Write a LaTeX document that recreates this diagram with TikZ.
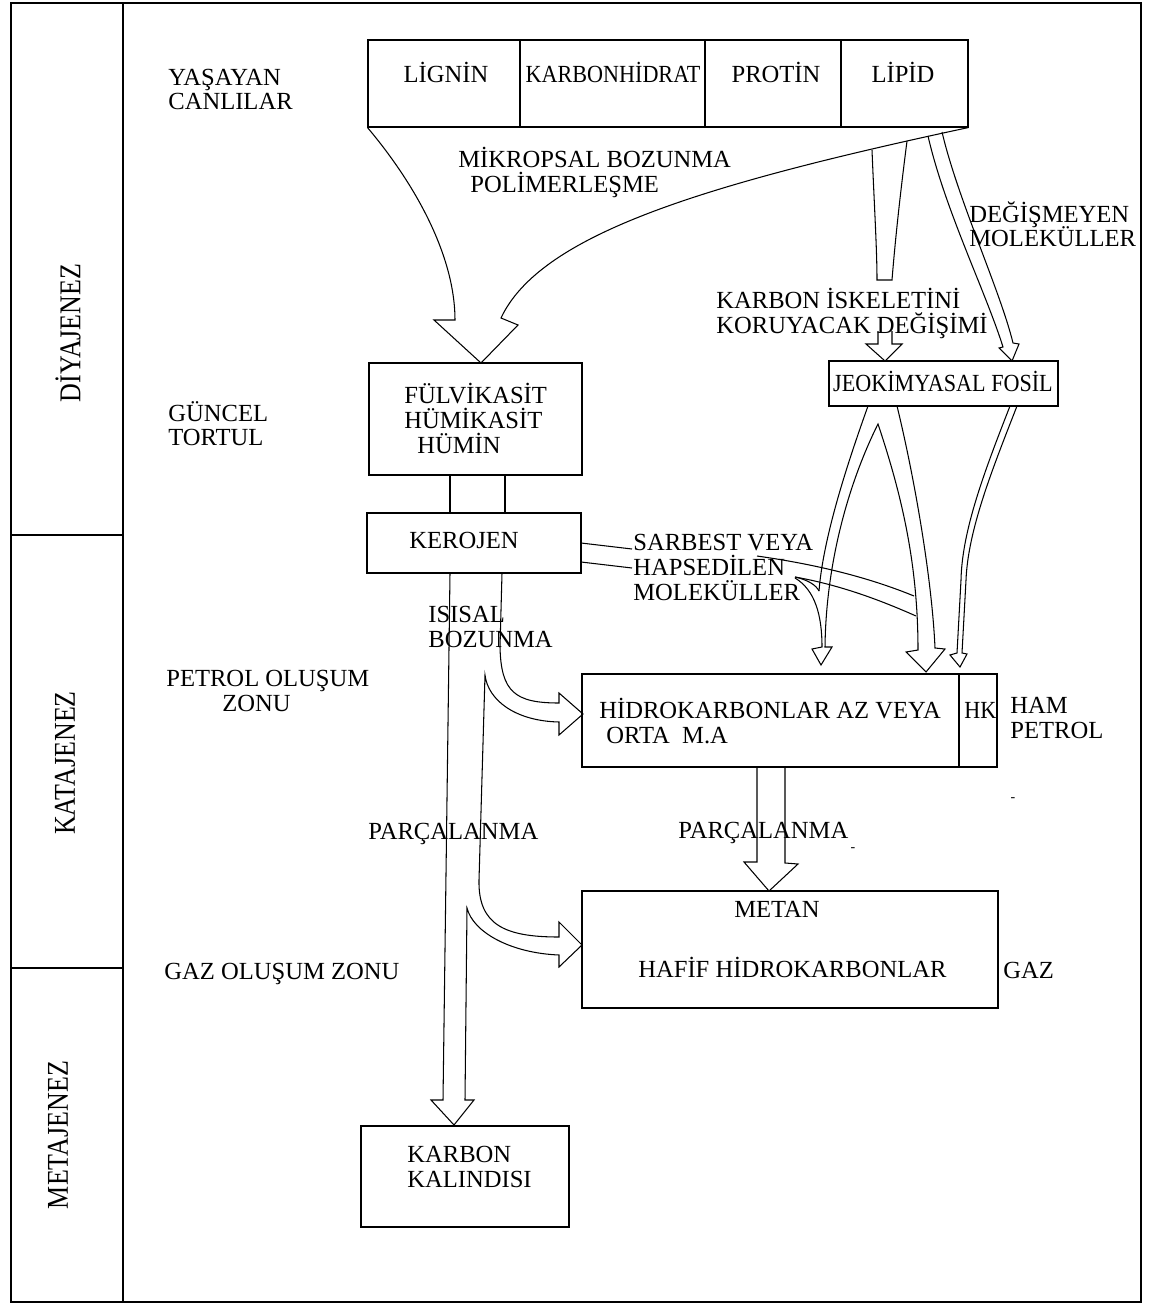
\documentclass[tikz,border=0pt]{standalone}
\usepackage{fontspec}
\setmainfont{Liberation Serif}
\usetikzlibrary{fit}
\begin{document}
\begin{tikzpicture}[
            x=0.02cm, y=-0.02cm,
            kutu/.style={draw, line width=0.6pt, inner sep=0pt},
            yazi/.style={font=\fontsize{14}{16}\selectfont, inner sep=0pt, anchor=base west},
            orta/.style={yazi, anchor=base},
            evre/.style={rotate=90, inner sep=0pt, font=\fontsize{17.2}{20}\selectfont},
            ok/.style={draw, line width=0.6pt}
        ]
            \fill[white] (0,0) rectangle (1152,1304);
            \draw[line width=1.4pt] (11,3) rectangle (1141,1302);
            \draw[line width=1.1pt] (123,3) -- (123,1302);
            \draw[line width=0.6pt] (11,535) -- (123,535) (11,968) -- (123,968);

            \node[evre] (diyajenez) at (68,333) {\scalebox{0.86}[1]{DİYAJENEZ}};
            \node[evre] (katajenez) at (65,763) {\scalebox{0.86}[1]{KATAJENEZ}};
            \node[evre] (metajenez) at (58,1135) {\scalebox{0.86}[1]{METAJENEZ}};

            \node[yazi] (yasayan) at (168,86) {YAŞAYAN};
            \node[yazi] (canlilar) at (168,110) {CANLILAR};
            \node[yazi] (guncel) at (168,421) {GÜNCEL};
            \node[yazi] (tortul) at (168,445) {TORTUL};
            \node[yazi] (petrolzon) at (166,686) {PETROL OLUŞUM};
            \node[yazi] (zonu) at (222,711) {ZONU};
            \node[yazi] (gazzon) at (164,979) {GAZ OLUŞUM ZONU};

            \node[kutu, fit={(368,40) (520,127)}] (lignin) {};
            \node[kutu, fit={(520,40) (705,127)}] (karbonhidrat) {};
            \node[kutu, fit={(705,40) (841,127)}] (protin) {};
            \node[kutu, fit={(841,40) (968,127)}] (lipid) {};
            \node[orta] (lignintxt) at (446,83) {LİGNİN};
            \node[orta] (karbtxt) at (613,83) {\scalebox{0.9}[1]{KARBONHİDRAT}};
            \node[orta] (protintxt) at (776,83) {PROTİN};
            \node[orta] (lipidtxt) at (903,83) {LİPİD};

            \node[kutu, fit={(369,363) (582,475)}] (fulvik) {};
            \node[kutu, fit={(367,513) (581,573)}] (kerojen) {};
            \node[kutu, fit={(829,361) (1058,406)}] (jeofosil) {};
            \node[kutu, fit={(582,674) (959,767)}] (hidrokarbon) {};
            \node[kutu, fit={(959,674) (997,767)}] (hk) {};
            \node[kutu, fit={(582,891) (998,1008)}] (metan) {};
            \node[kutu, fit={(361,1126) (569,1227)}] (kalinti) {};

            \node[yazi] (fulvtxt) at (404,403) {FÜLVİKASİT};
            \node[yazi] (humiktxt) at (404,428) {HÜMİKASİT};
            \node[yazi] (humintxt) at (417,453) {HÜMİN};
            \node[yazi] (kerotxt) at (409,548) {KEROJEN};
            \node[orta] (jeotxt) at (943,391) {\scalebox{0.9}[1]{JEOKİMYASAL FOSİL}};
            \node[yazi] (hidrotxt) at (599,718) {HİDROKARBONLAR AZ VEYA};
            \node[yazi] (ortatxt) at (606,743) {ORTA~~M.A};
            \node[yazi] (hktxt) at (964,718) {\scalebox{0.9}[1]{HK}};
            \node[orta] (metantxt) at (777,917) {METAN};
            \node[yazi] (hafiftxt) at (638,977) {HAFİF HİDROKARBONLAR};
            \node[yazi] (karbontxt) at (407,1162) {KARBON};
            \node[yazi] (kalintitxt) at (407,1187) {KALINDISI};

            \node[yazi] (mikropsal) at (458,168) {MİKROPSAL BOZUNMA};
            \node[yazi] (polimer) at (470,193) {POLİMERLEŞME};
            \node[yazi] (iskelet) at (716,308) {KARBON İSKELETİNİ};
            \node[yazi] (koruyacak) at (716,333) {KORUYACAK DEĞİŞİMİ};
            \node[yazi] (degismeyen) at (969,222) {DEĞİŞMEYEN};
            \node[yazi] (molekul) at (969,246) {MOLEKÜLLER};
            \node[yazi] (sarbest) at (633,550) {SARBEST VEYA};
            \node[yazi] (hapsedilen) at (633,575) {HAPSEDİLEN};
            \node[yazi] (molekul2) at (633,600) {MOLEKÜLLER};
            \node[yazi] (isisal) at (428,622) {ISISAL};
            \node[yazi] (bozunma) at (428,647) {BOZUNMA};
            \node[yazi] (parca) at (368,839) {PARÇALANMA};
            \node[yazi] (parca2) at (678,838) {PARÇALANMA};
            \node[yazi] (ham) at (1010,713) {HAM};
            \node[yazi] (petrol) at (1010,738) {PETROL};
            \node[yazi] (gaz) at (1003,978) {GAZ};
            \node[inner sep=0pt, font=\fontsize{8}{9}\selectfont] (tire1) at (1013,800) {-};
            \node[inner sep=0pt, font=\fontsize{8}{9}\selectfont] (tire2) at (853,850) {-};

            \draw[ok] (lignin.south west) .. controls (420,190) and (455,260) .. (455,320) -- (434,320)
                -- (481,363) -- (518,325) -- (501,318) .. controls (540,235) and (700,185) .. (lipid.south east);
            \draw[ok] (872,150) .. controls (874,200) and (877,250) .. (877,280) -- (892,280)
                .. controls (896,230) and (902,180) .. (907,141);
            \draw[ok] (878,331) -- (878,344) -- (866,344) -- (885,361) -- (902,344) -- (892,344) -- (892,331);
            \draw[ok] (928,136) .. controls (945,210) and (985,290) .. (1003,347) -- (999,348) -- (1012,361)
                -- (1019,344) -- (1013,343) .. controls (1000,290) and (958,200) .. (942,132);

            \draw[ok] (868,406) .. controls (845,470) and (823,540) .. (819,591);
            \draw[ok] (795,577) .. controls (808,580) and (816,585) .. (819,591);
            \draw[ok] (795,578) .. controls (815,590) and (822,615) .. (822,647) -- (812,649) -- (821,665)
                -- (832,647) -- (825,647) .. controls (826,560) and (850,480) .. (878,424)
                .. controls (900,490) and (918,560) .. (918,650) -- (906,652) -- (926,672) -- (945,649)
                -- (935,648) .. controls (932,580) and (915,480) .. (897,406);
            \draw[ok] (1010,406) .. controls (985,470) and (962,530) .. (961,580) -- (957,653) -- (950,655)
                -- (960,667) -- (967,654) -- (962,653) -- (966,580) .. controls (968,530) and (992,470) .. (1017,406);

            \draw[ok] (581,543) -- (632,549) (581,562) -- (632,568);
            \draw[ok] (757,556) .. controls (820,565) and (870,578) .. (914,596);
            \draw[ok] (795,577) .. controls (840,585) and (880,600) .. (916,616);

            \draw[ok] (450,475) -- (450,513) (505,475) -- (505,513);
            \draw[ok] (757,767) -- (757,862) -- (744,862) -- (769,891) -- (798,864) -- (785,863) -- (785,767);
            \draw[ok] (450,573) -- (443,1100) -- (431,1100) -- (454,1125) -- (474,1100) -- (465,1100) -- (467,908)
                .. controls (473,932) and (510,953) .. (559,955) -- (559,967) -- (582,945) -- (559,922) -- (559,937)
                .. controls (505,937) and (478,925) .. (479,880) -- (485,675)
                .. controls (488,700) and (515,721) .. (559,722) -- (559,735) -- (583,714) -- (559,693) -- (559,703)
                .. controls (515,703) and (501,692) .. (500,647) -- (502,573);
        \end{tikzpicture}
\end{document}
